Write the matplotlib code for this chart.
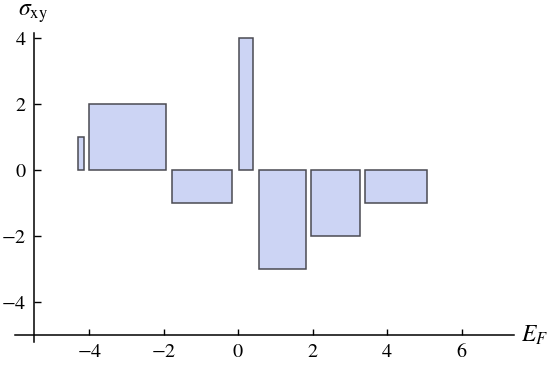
import matplotlib
matplotlib.use("Agg")
import matplotlib.pyplot as plt

# Data: bar left/right edges in E_F and heights sigma_xy
lefts = [-4.30, -4.00, -1.77, 0.03, 0.56, 1.96, 3.41]
rights = [-4.15, -1.93, -0.16, 0.40, 1.81, 3.26, 5.06]
heights = [1, 2, -1, 4, -3, -2, -1]
xticks = [-4, -2, 0, 2, 4, 6]
yticks = [-4, -2, 0, 2, 4]

plt.rcParams['font.family'] = ['Liberation Serif', 'DejaVu Serif']
plt.rcParams['mathtext.fontset'] = 'stix'

W, H = 556, 372
fig = plt.figure(figsize=(W / 100, H / 100), dpi=100)
x0, x1 = -6.0, 7.4
y0, y1 = -5.2, 4.15
px_l, px_r = 15.0, 513.7
px_b, px_t = 341.7, 33.3
ax = fig.add_axes([px_l / W, 1 - px_b / H, (px_r - px_l) / W, (px_b - px_t) / H])
ax.set_xlim(x0, x1)
ax.set_ylim(y0, y1)

widths = [r - l for l, r in zip(lefts, rights)]
ax.bar(lefts, heights, width=widths, align='edge', bottom=0,
       color='#CCD4F4', edgecolor='#4a4a52', linewidth=1.1)

for s in ['top', 'right']:
    ax.spines[s].set_visible(False)
ax.spines['left'].set_position(('data', -5.5))
ax.spines['bottom'].set_position(('data', -5.0))
ax.spines['left'].set_linewidth(1.1)
ax.spines['bottom'].set_linewidth(1.1)


def fmt(v):
    return r'$%d$' % v


ax.set_xticks(xticks)
ax.set_xticklabels([fmt(v) for v in xticks])
ax.set_yticks(yticks)
ax.set_yticklabels([fmt(v) for v in yticks])
ax.tick_params(axis='x', direction='in', length=4, width=1, labelsize=14.5, pad=6)
ax.tick_params(axis='y', direction='in', length=5, width=1, labelsize=14.5, pad=5)

fig.text(18 / W, 1 - 14 / H, r'$\sigma_{\rm xy}$', fontsize=17, ha='left', va='center')
fig.text(521 / W, 1 - 335 / H, r'$E_F$', fontsize=17, ha='left', va='center')

fig.savefig('out.png', dpi=100)
